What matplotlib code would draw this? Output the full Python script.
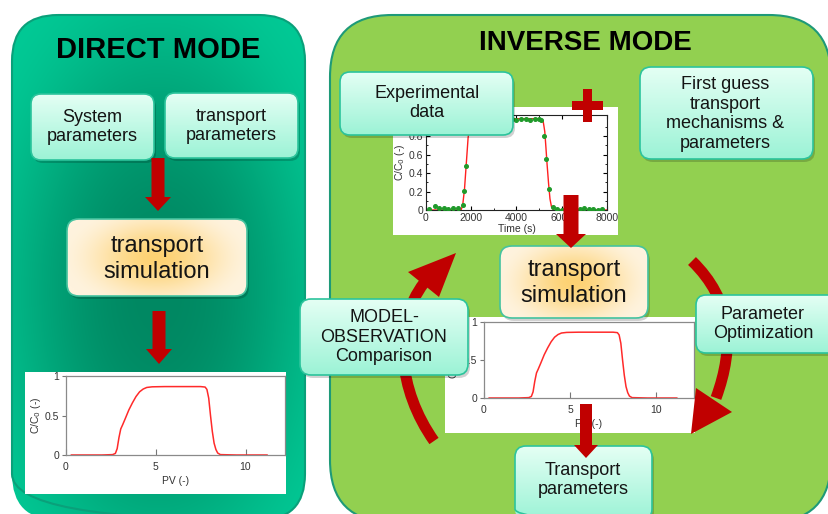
import numpy as np
import matplotlib
matplotlib.use("Agg")
import matplotlib.pyplot as plt
from matplotlib.patches import FancyBboxPatch, Rectangle, Polygon, PathPatch
from matplotlib.path import Path
from matplotlib.colors import to_rgb

plt.rcParams['font.family'] = ['Liberation Sans', 'DejaVu Sans']

# ---------------- data ----------------
# simulated breakthrough curve (PV vs C/C0)
pv_sim = [0.3, 2.0, 2.6, 2.75, 2.85, 2.95, 3.05, 3.15, 3.3, 3.5, 3.7, 3.9, 4.1, 4.3, 4.5,
          4.8, 5.5, 6.5, 7.5, 7.75, 7.85, 7.95, 8.05, 8.15, 8.25, 8.35, 8.45, 8.6, 9.5, 11.2]
c_sim = [0.0, 0.0, 0.005, 0.02, 0.08, 0.22, 0.33, 0.38, 0.46, 0.57, 0.66, 0.74, 0.80, 0.835, 0.855,
         0.863, 0.866, 0.866, 0.866, 0.86, 0.83, 0.72, 0.50, 0.30, 0.15, 0.07, 0.025, 0.005, 0.0, 0.0]
pv_ticks = [0, 5, 10]
c_ticks = [0, 0.5, 1]

# experimental data (Time vs C/C0) and fitted curve
t_fit = [0, 1550, 1620, 1700, 1780, 1860, 1950, 2050, 5100, 5180, 5250, 5300, 5350,
         5420, 5480, 5550, 5650, 8000]
c_fit = [0.0, 0.0, 0.05, 0.22, 0.50, 0.78, 0.95, 0.99, 0.99, 0.96, 0.85, 0.68, 0.50,
         0.28, 0.12, 0.03, 0.0, 0.0]
t_obs = [130, 400, 580, 800, 970, 1190, 1410, 1640, 1690, 1770, 2000, 2200, 2400, 2600,
         2800, 3000, 3200, 3400, 3600, 3800, 4000, 4200, 4400, 4600, 4800, 5000, 5100,
         5220, 5300, 5440, 5600, 5800, 6000, 6200, 6400, 6600, 6800, 7000, 7200, 7400,
         7600, 7800]
c_obs = [0.01, 0.04, 0.02, 0.02, 0.01, 0.02, 0.02, 0.05, 0.21, 0.48, 0.99, 1.0, 0.98, 0.99,
         1.0, 0.99, 0.98, 0.99, 1.0, 0.99, 0.98, 0.99, 0.99, 0.98, 0.99, 0.99, 0.98,
         0.80, 0.55, 0.23, 0.03, 0.01, 0.0, 0.01, 0.02, 0.01, 0.01, 0.02, 0.01, 0.01,
         0.0, 0.01]
time_ticks = [0, 2000, 4000, 6000, 8000]
exp_c_ticks = [0, 0.2, 0.4, 0.6, 0.8]

# ---------------- figure ----------------
W, H = 829, 514
fig = plt.figure(figsize=(W / 100, H / 100), dpi=100)
fig.patch.set_facecolor('white')


def frac(x0, y0, x1, y1):
    return [x0 / W, 1 - y1 / H, (x1 - x0) / W, (y1 - y0) / H]


def setup(ax):
    ax.set_xlim(0, W)
    ax.set_ylim(H, 0)
    ax.set_aspect('auto')
    ax.axis('off')


bg = fig.add_axes([0, 0, 1, 1], zorder=0)
setup(bg)
ov = fig.add_axes([0, 0, 1, 1], zorder=5)
setup(ov)
ov.patch.set_alpha(0)


def rbox(x0, y0, x1, y1, r, **kw):
    return FancyBboxPatch((x0, y0), x1 - x0, y1 - y0,
                          boxstyle=f"round,pad=0,rounding_size={r}", **kw)


def gradient_box(ax, x0, y0, x1, y1, r, img, edge, lw=1.2, z=3, shadow=True):
    if shadow:
        ax.add_patch(rbox(x0 + 2, y0 + 3, x1 + 2, y1 + 3, r, facecolor='black',
                          edgecolor='none', alpha=0.18, zorder=z - 0.2))
    clip = rbox(x0, y0, x1, y1, r, facecolor='none', edgecolor='none', zorder=z)
    ax.add_patch(clip)
    im = ax.imshow(img, extent=(x0, x1, y1, y0), aspect='auto', zorder=z,
                   interpolation='bilinear', origin='upper')
    im.set_clip_path(clip)
    ax.add_patch(rbox(x0, y0, x1, y1, r, facecolor='none', edgecolor=edge,
                      lw=lw, zorder=z + 0.1))


def vgrad(c_top, c_bot, n=64):
    a, b = np.array(to_rgb(c_top)), np.array(to_rgb(c_bot))
    t = np.linspace(0, 1, n)[:, None, None]
    return (a * (1 - t) + b * t) * np.ones((1, 4, 1))


def rgrad(c_center, c_edge, cx=0.5, cy=0.5, sx=0.5, sy=0.5, scale=1.0, power=1.0, n=120):
    a, b = np.array(to_rgb(c_center)), np.array(to_rgb(c_edge))
    u = np.linspace(0, 1, n)[None, :]
    v = np.linspace(0, 1, n)[:, None]
    d = np.sqrt(((u - cx) / sx) ** 2 + ((v - cy) / sy) ** 2) / scale
    t = np.clip(d, 0, 1) ** power
    t = (t * t * (3 - 2 * t))[:, :, None]
    return a * (1 - t) + b * t


MINT = ('#e4fff4', '#9cf3d6')
MINT_EDGE = '#2cc49c'
ORANGE = ('#fdd273', '#fff3de')
TXT = '#141414'
RED = '#c00000'

# ---------------- panels ----------------
gradient_box(bg, 12, 15, 305, 520, 46,
             rgrad('#008862', '#02c995', cx=0.5, cy=0.55, sx=0.5, sy=0.5, scale=1.45,
                   power=1.2),
             edge='#0aa07a', lw=1.5, z=1, shadow=False)
bg.add_patch(rbox(330, 15, 831, 522, 62, facecolor='#92d050', edgecolor='#1e9a78',
                  lw=1.5, zorder=1))

bg.text(158, 50, 'DIRECT MODE', ha='center', va='center', fontsize=21,
        fontweight='bold', color='black', zorder=2)
bg.text(585, 43, 'INVERSE MODE', ha='center', va='center', fontsize=20,
        fontweight='bold', color='black', zorder=2)

# white backgrounds of the embedded charts
for (x0, y0, x1, y1) in [(25, 372, 286, 494), (445, 317, 695, 433), (393, 107, 618, 235)]:
    bg.add_patch(Rectangle((x0, y0), x1 - x0, y1 - y0, facecolor='white',
                           edgecolor='none', zorder=2))

# ---------------- embedded charts ----------------
def sim_chart(rect, ylabel=True):
    ax = fig.add_axes(rect, zorder=2)
    ax.plot(pv_sim, c_sim, color='#ff2a2a', lw=1.1)
    ax.set_xlim(0, 12.2)
    ax.set_ylim(0, 1)
    ax.set_xticks(pv_ticks)
    ax.set_yticks(c_ticks)
    ax.set_yticklabels(['0', '0.5', '1'])
    ax.tick_params(axis='x', direction='in', length=4, labelsize=7.5, colors='#777',
                   labelcolor='#333', pad=5)
    ax.tick_params(axis='y', direction='out', length=3, labelsize=7.5, colors='#777',
                   labelcolor='#333', pad=2)
    for s in ax.spines.values():
        s.set_color('#8a8a8a')
        s.set_linewidth(0.9)
    ax.set_xlabel('PV (-)', fontsize=7.5, color='#333', labelpad=3)
    if ylabel:
        ax.set_ylabel(r'C/C$_0$ (-)', fontsize=7.5, color='#333', labelpad=1)
    ax.set_facecolor('white')
    return ax


sim_chart(frac(66, 376, 285, 455))
sim_chart(frac(484, 322, 694, 398))

ae = fig.add_axes(frac(426, 115, 607, 210), zorder=2)
ae.plot(t_fit, c_fit, color='#ff2020', lw=1.0, zorder=2)
ae.plot(t_obs, c_obs, 'o', color='#1f9a2a', ms=2.6, zorder=3)
ae.set_xlim(0, 8000)
ae.set_ylim(0, 1.03)
ae.set_xticks(time_ticks)
ae.set_yticks(exp_c_ticks)
ae.set_yticklabels(['0', '0.2', '0.4', '0.6', '0.8'])
ae.set_xticks([1000, 3000, 5000, 7000], minor=True)
ae.set_yticks([0.1, 0.3, 0.5, 0.7, 0.9], minor=True)
ae.tick_params(which='both', direction='in', top=True, right=True, labelsize=7.5,
               labelcolor='#333', pad=2)
ae.tick_params(which='major', length=3)
ae.tick_params(which='minor', length=1.5)
for s in ae.spines.values():
    s.set_color('#222')
    s.set_linewidth(0.8)
ae.set_xlabel('Time (s)', fontsize=7.5, color='#333', labelpad=1)
ae.set_ylabel(r'C/C$_0$ (-)', fontsize=7.5, color='#333', labelpad=1)
ae.set_facecolor('white')

# ---------------- curved arrows ----------------
def bezier(ax, pts, lw=8, color=RED, z=3):
    path = Path(pts, [Path.MOVETO, Path.CURVE4, Path.CURVE4, Path.CURVE4])
    ax.add_patch(PathPatch(path, facecolor='none', edgecolor=color, lw=lw,
                           capstyle='butt', zorder=z))


bezier(ov, [(434, 441), (398, 390), (392, 325), (424, 283)])
ov.add_patch(Polygon([(408, 272), (439, 297), (456, 253)], closed=True,
                     facecolor=RED, edgecolor='none', zorder=3))
bezier(ov, [(692, 261), (732, 300), (735, 346), (716, 398)])
ov.add_patch(Polygon([(696, 388), (732, 412), (691, 434)], closed=True,
                     facecolor=RED, edgecolor='none', zorder=3))

# ---------------- boxes ----------------
mint = vgrad(*MINT)
orange = rgrad(*ORANGE, cx=0.5, cy=0.5, sx=0.55, sy=0.75, scale=1.0)

gradient_box(ov, 31, 94, 154, 160, 10, mint, MINT_EDGE, z=5)
gradient_box(ov, 165, 93, 298, 158, 10, mint, MINT_EDGE, z=5)
gradient_box(ov, 67, 219, 247, 296, 12, orange, '#45c39f', z=5)
gradient_box(ov, 340, 72, 513, 135, 10, mint, MINT_EDGE, z=5)
gradient_box(ov, 640, 67, 813, 159, 11, mint, MINT_EDGE, z=5)
gradient_box(ov, 500, 246, 648, 318, 12, orange, '#45c39f', z=5)
gradient_box(ov, 300, 299, 468, 375, 11, mint, MINT_EDGE, z=5)
gradient_box(ov, 696, 295, 840, 353, 10, mint, MINT_EDGE, z=5)
gradient_box(ov, 515, 446, 652, 520, 11, mint, MINT_EDGE, z=5)

labels = [
    (92, 127, 'System\nparameters', 13),
    (231, 126, 'transport\nparameters', 13),
    (157, 259, 'transport\nsimulation', 17),
    (427, 103, 'Experimental\ndata', 13),
    (725, 114, 'First guess\ntransport\nmechanisms &\nparameters', 13),
    (574, 283, 'transport\nsimulation', 17),
    (384, 337, 'MODEL-\nOBSERVATION\nComparison', 13),
    (763, 324, 'Parameter\nOptimization', 13),
    (583, 480, 'Transport\nparameters', 13),
]
for x, y, s, fs in labels:
    ov.text(x, y, s, ha='center', va='center', fontsize=fs, color=TXT,
            linespacing=1.2, zorder=7)

# ---------------- straight arrows ----------------
def down_arrow(ax, xc, y0, y1, sw, hw, hl, z=8):
    pts = [(xc - sw / 2, y0), (xc + sw / 2, y0), (xc + sw / 2, y1 - hl),
           (xc + hw / 2, y1 - hl), (xc, y1), (xc - hw / 2, y1 - hl),
           (xc - sw / 2, y1 - hl)]
    ax.add_patch(Polygon(pts, closed=True, facecolor=RED, edgecolor='none', zorder=z))


down_arrow(ov, 158, 158, 211, 13, 26, 14)
down_arrow(ov, 159, 311, 364, 13, 26, 15)
down_arrow(ov, 571, 195, 248, 15, 30, 14)
down_arrow(ov, 586, 404, 458, 12, 24, 13)

# red plus sign
ov.add_patch(Rectangle((572, 101), 31, 9, facecolor=RED, edgecolor='none', zorder=8))
ov.add_patch(Rectangle((583.5, 89), 9, 33, facecolor=RED, edgecolor='none', zorder=8))

setup(bg)
setup(ov)
fig.savefig('out.png', dpi=100)
